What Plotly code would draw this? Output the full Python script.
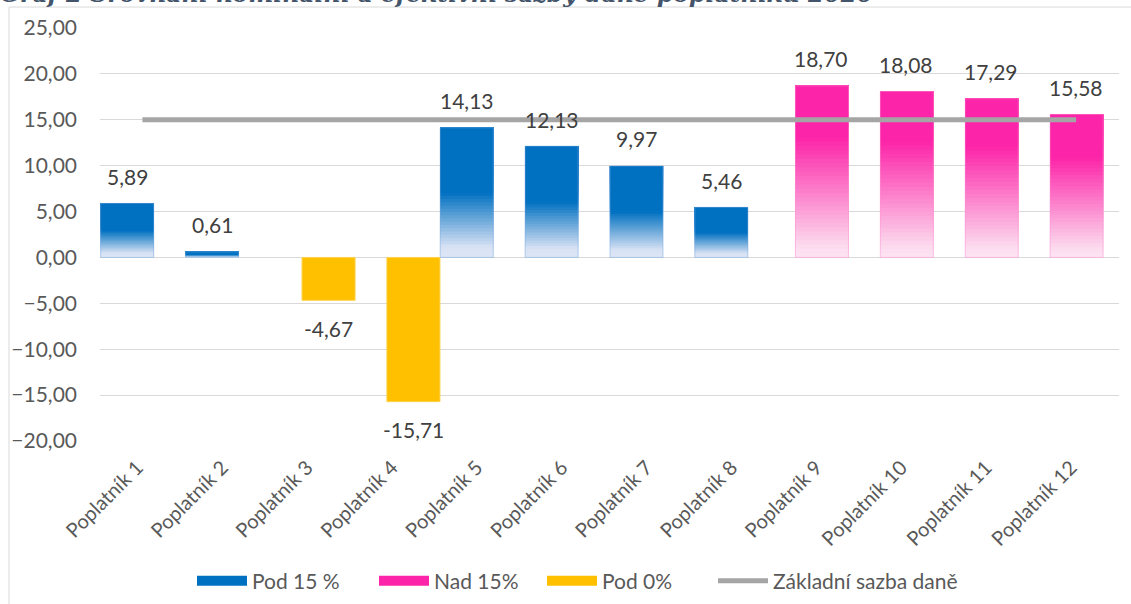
import plotly.graph_objects as go

# data
categories = ["Poplatník 1", "Poplatník 2", "Poplatník 3", "Poplatník 4", "Poplatník 5", "Poplatník 6",
              "Poplatník 7", "Poplatník 8", "Poplatník 9", "Poplatník 10", "Poplatník 11", "Poplatník 12"]
pod_15 = [5.89, 0.61, None, None, 14.13, 12.13, 9.97, 5.46, None, None, None, None]
nad_15 = [None, None, None, None, None, None, None, None, 18.70, 18.08, 17.29, 15.58]
pod_0 = [None, None, -4.67, -15.71, None, None, None, None, None, None, None, None]
zakladni_sazba = [15.0] * 12
y_ticks = [-20, -15, -10, -5, 0, 5, 10, 15, 20, 25]

title = "Graf 2 Srovnání nominální a efektivní sazby daně poplatníků 2020"

FONT = "Lato"
BAR_W = 0.625
N_SLICES = 40

blue_stops = [(0.0, "#DDE5F6"), (0.08, "#D8E2F4"), (0.5, "#0070C0"), (1.0, "#0070C0")]
pink_stops = [(0.0, "#FDE5F2"), (0.06, "#FCDCEE"), (0.7, "#FC24A8"), (1.0, "#FC24A8")]


def hex_rgb(h):
    h = h.lstrip("#")
    return [int(h[i:i + 2], 16) for i in (0, 2, 4)]


def grad_color(stops, f):
    for (f0, c0), (f1, c1) in zip(stops[:-1], stops[1:]):
        if f0 <= f <= f1:
            t = (f - f0) / (f1 - f0) if f1 > f0 else 0
            a, b = hex_rgb(c0), hex_rgb(c1)
            return "rgb({},{},{})".format(*[round(a[i] + (b[i] - a[i]) * t) for i in range(3)])
    return stops[-1][1]


def add_gradient_bars(fig, values, stops, offset, edge):
    # stacked bars, each running from its own base up to the value, fake a vertical gradient
    for k in range(N_SLICES):
        f = (k + 0.5) / N_SLICES
        base = [v * k / N_SLICES if v is not None else None for v in values]
        h = [v * (N_SLICES - k) / N_SLICES if v is not None else None for v in values]
        fig.add_trace(go.Bar(x=categories, y=h, base=base, width=BAR_W, offset=offset,
                             marker=dict(color=grad_color(stops, f), line=dict(width=0)),
                             showlegend=False, hoverinfo="skip"))
    fig.add_trace(go.Bar(x=categories, y=values, width=BAR_W, offset=offset,
                         marker=dict(color="rgba(0,0,0,0)", line=dict(color=edge, width=1)),
                         showlegend=False, hoverinfo="skip"))


def fmt(v):
    return f"{v:.2f}".replace(".", ",")


fig = go.Figure()

add_gradient_bars(fig, pod_15, blue_stops, -0.492, "rgba(120,170,225,0.5)")
add_gradient_bars(fig, nad_15, pink_stops, -0.307, "rgba(255,140,210,0.5)")
fig.add_trace(go.Bar(x=categories, y=pod_0, width=BAR_W, offset=-0.12,
                     marker=dict(color="#FFC000", line=dict(color="#FFD24D", width=1)),
                     showlegend=False, hoverinfo="skip"))

# legend entries, one legend each so the spacing can follow the original
for name, color, leg in [("Pod 15 %", "#0070C0", "legend"), ("Nad 15%", "#FC24A8", "legend2"),
                         ("Pod 0%", "#FFC000", "legend3")]:
    fig.add_trace(go.Scatter(x=[categories[0]], y=[None], mode="lines", name=name, legend=leg,
                             line=dict(color=color, width=10)))

fig.add_trace(go.Scatter(x=categories, y=zakladni_sazba, mode="lines", name="Základní sazba daně",
                         legend="legend4", line=dict(color="#A5A5A5", width=5)))

# data labels
for series, xshift in [(pod_15, -15), (nad_15, 0), (pod_0, 16)]:
    for cat, v in zip(categories, series):
        if v is None:
            continue
        fig.add_annotation(x=cat, y=v, text=fmt(v), showarrow=False, xshift=xshift,
                           yshift=27 if v > 0 else -28, yanchor="middle",
                           font=dict(family=FONT, size=21, color="#404040"))

# title, mostly cut off at the top edge
fig.add_annotation(xref="paper", yref="paper", x=-0.1, y=1.0445, xanchor="left", yanchor="bottom",
                   text=title, showarrow=False,
                   font=dict(family="DejaVu Serif", size=23.5, color="#44546A", weight="bold", style="italic"))

# chart frame
fig.add_shape(type="rect", xref="paper", yref="paper", x0=-0.0893, x1=1.02, y0=-0.42, y1=1.0508,
              line=dict(color="#D9D9D9", width=1), fillcolor="rgba(0,0,0,0)", layer="below")

legend_style = dict(orientation="h", y=-0.339, yanchor="middle", xanchor="left", itemwidth=50,
                    font=dict(family=FONT, size=21, color="#595959"), bgcolor="rgba(0,0,0,0)")
fig.update_layout(
    width=1131, height=604,
    margin=dict(l=100, r=12, t=28, b=163, autoexpand=False),
    barmode="overlay",
    separators=", ",
    plot_bgcolor="white", paper_bgcolor="white",
    font=dict(family=FONT, size=21, color="#595959"),
    showlegend=True,
    legend=dict(x=(192 - 100) / 1019, **legend_style),
    legend2=dict(x=(374 - 100) / 1019, **legend_style),
    legend3=dict(x=(542 - 100) / 1019, **legend_style),
    legend4=dict(x=(713 - 100) / 1019, **legend_style),
)
fig.update_xaxes(type="category", tickangle=-45, showgrid=False, showline=False, ticks="", automargin=False,
                 ticklabelstandoff=10, ticklabelshift=-5, tickfont=dict(family=FONT, size=20, color="#595959"))
fig.update_yaxes(range=[-20, 25], tickvals=y_ticks, tickformat=".2f", showgrid=True, gridcolor="#D9D9D9",
                 gridwidth=1, zeroline=True, zerolinecolor="#D9D9D9", zerolinewidth=1, showline=False,
                 automargin=False, ticks="", ticklabelstandoff=22,
                 tickfont=dict(family=FONT, size=21, color="#595959"))

fig.write_html("out.html", config={"displayModeBar": False},
               post_script="document.body.style.margin = '0px';")
